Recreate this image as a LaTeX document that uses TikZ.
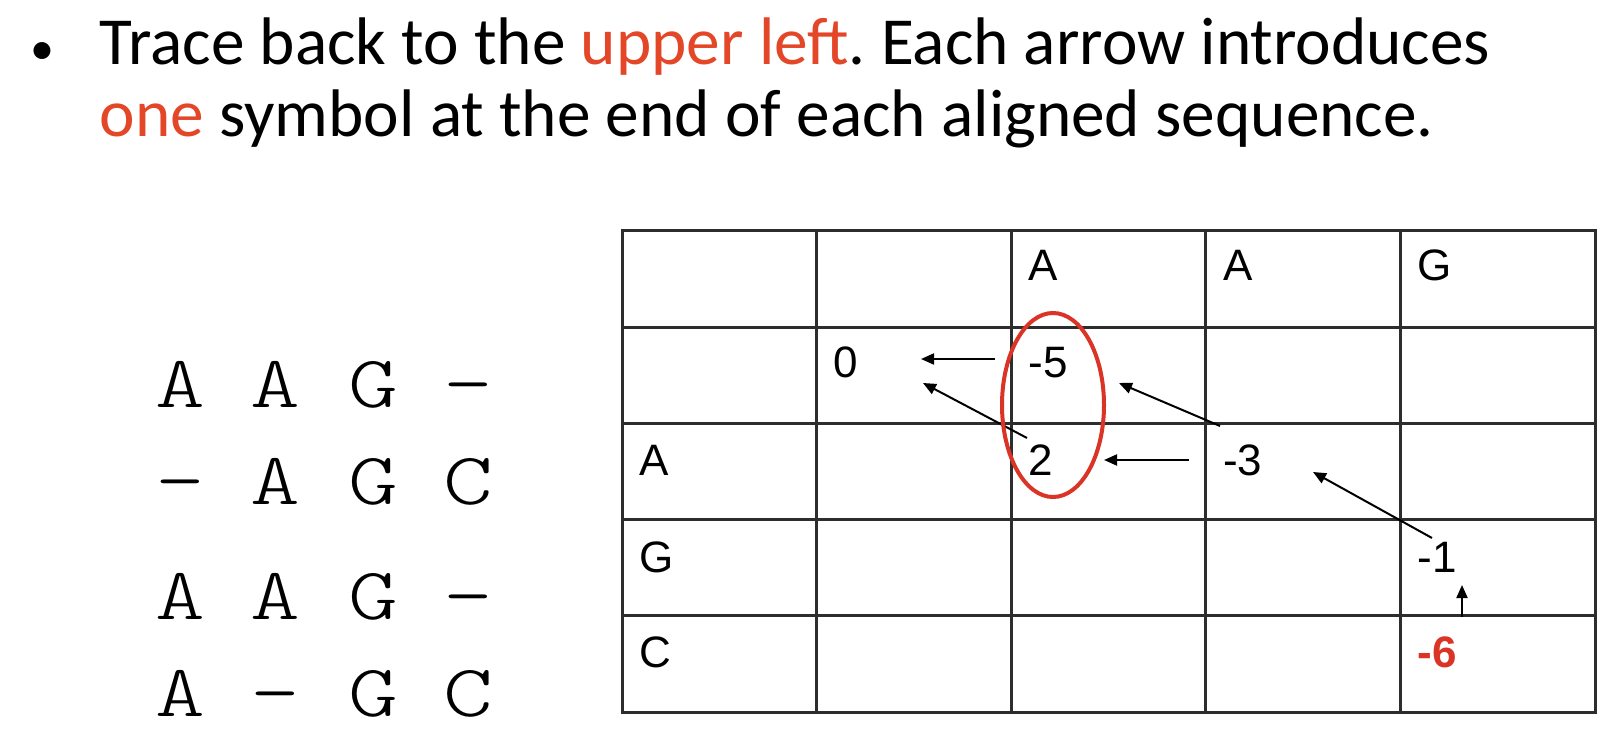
\documentclass[tikz,border=0pt]{standalone}
\usepackage{fontspec}
\setmainfont{Carlito}
\newfontfamily\arialf{Liberation Sans}
\newfontfamily\monolight{Latin Modern Mono Light}
\usetikzlibrary{arrows.meta,calc}
\definecolor{tred}{RGB}{228,70,40}
\definecolor{ered}{RGB}{218,52,38}
\definecolor{gridc}{RGB}{45,45,45}
\frenchspacing
\begin{document}
\begin{tikzpicture}[x=1pt,y=-1pt,
  cell/.style={anchor=base west,inner sep=0pt,font=\arialf\fontsize{44}{44}\selectfont},
  seqch/.style={anchor=base,inner sep=0pt,xscale=1.28,font=\monolight\fontsize{74}{74}\selectfont},
  titleline/.style={anchor=base west,inner sep=0pt,font=\fontsize{67.3}{72}\selectfont},
  arr/.style={line width=2pt,-{Triangle[length=13pt,width=11pt]}},
  gridl/.style={line width=3pt,gridc}]
\useasboundingbox (0,0) rectangle (1618,754);
\fill[white] (0,0) rectangle (1618,754);

% title
\node[anchor=base,inner sep=0pt,font=\fontsize{48}{48}\selectfont] (bul) at (42,65) {•};
\node[titleline] (t1) at (99.5,65) {Trace back to the {\color{tred}upper left}. Each arrow introduces};
\node[titleline] (t2) at (99.5,137) {{\color{tred}one} symbol at the end of each aligned sequence.};

% alignments
\node[seqch] (s11) at (180,407) {A};
\node[seqch] (s12) at (275,407) {A};
\node[seqch] (s13) at (373,407) {G};
\node[seqch] (s14) at (468,407) {–};
\node[seqch] (s21) at (180,504) {–};
\node[seqch] (s22) at (275,504) {A};
\node[seqch] (s23) at (373,504) {G};
\node[seqch] (s24) at (468,504) {C};
\node[seqch] (s31) at (180,619) {A};
\node[seqch] (s32) at (275,619) {A};
\node[seqch] (s33) at (373,619) {G};
\node[seqch] (s34) at (468,619) {–};
\node[seqch] (s41) at (180,716) {A};
\node[seqch] (s42) at (275,716) {–};
\node[seqch] (s43) at (373,716) {G};
\node[seqch] (s44) at (468,716) {C};

% grid
\foreach \x in {816.6,1011.2,1205.8,1400.4} \draw[gridl] (\x,231) -- (\x,712);
\foreach \y in {327.2,423.4,519.6,615.8} \draw[gridl] (622,\y) -- (1595,\y);
\draw[gridl] (622,231) rectangle (1595,712);

% headers
\node[cell] (hA1) at (1028.2,280) {A};
\node[cell] (hA2) at (1222.8,280) {A};
\node[cell] (hG) at (1417.4,280) {G};
\node[cell] (rA) at (639,475) {A};
\node[cell] (rG) at (639,572) {G};
\node[cell] (rC) at (639,667) {C};

% values
\node[cell] (zero) at (833.6,377) {0};
\node[cell] (m5) at (1028.2,377) {-5};
\node[cell] (two) at (1028.2,475) {2};
\node[cell] (m3) at (1222.8,475) {-3};
\node[cell] (m1) at (1417.4,572) {-1};
\node[cell,text=ered,font=\arialf\bfseries\fontsize{44}{44}\selectfont] (m6) at (1417.4,667) {-6};

% arrows
\draw[arr] ($(m5.base west)+(-33.2,-18)$) -- ($(zero.base west)+(87.4,-18)$);
\draw[arr] ($(two.base west)+(-1.2,-37)$) -- ($(zero.base west)+(89.4,6)$);
\draw[arr] ($(m3.base west)+(-2.8,-49)$) -- ($(m5.base west)+(90.8,6)$);
\draw[arr] ($(m3.base west)+(-33.8,-15)$) -- ($(two.base west)+(75.8,-15)$);
\draw[arr] ($(m1.base west)+(14.6,-34)$) -- ($(m3.base west)+(90.2,-3)$);
\draw[arr] ($(m6.base west)+(44.6,-50)$) -- ($(m1.base west)+(44.6,13)$);

% highlight
\draw[ered,line width=4pt] (1053,405) ellipse [x radius=51, y radius=92];
\end{tikzpicture}
\end{document}
